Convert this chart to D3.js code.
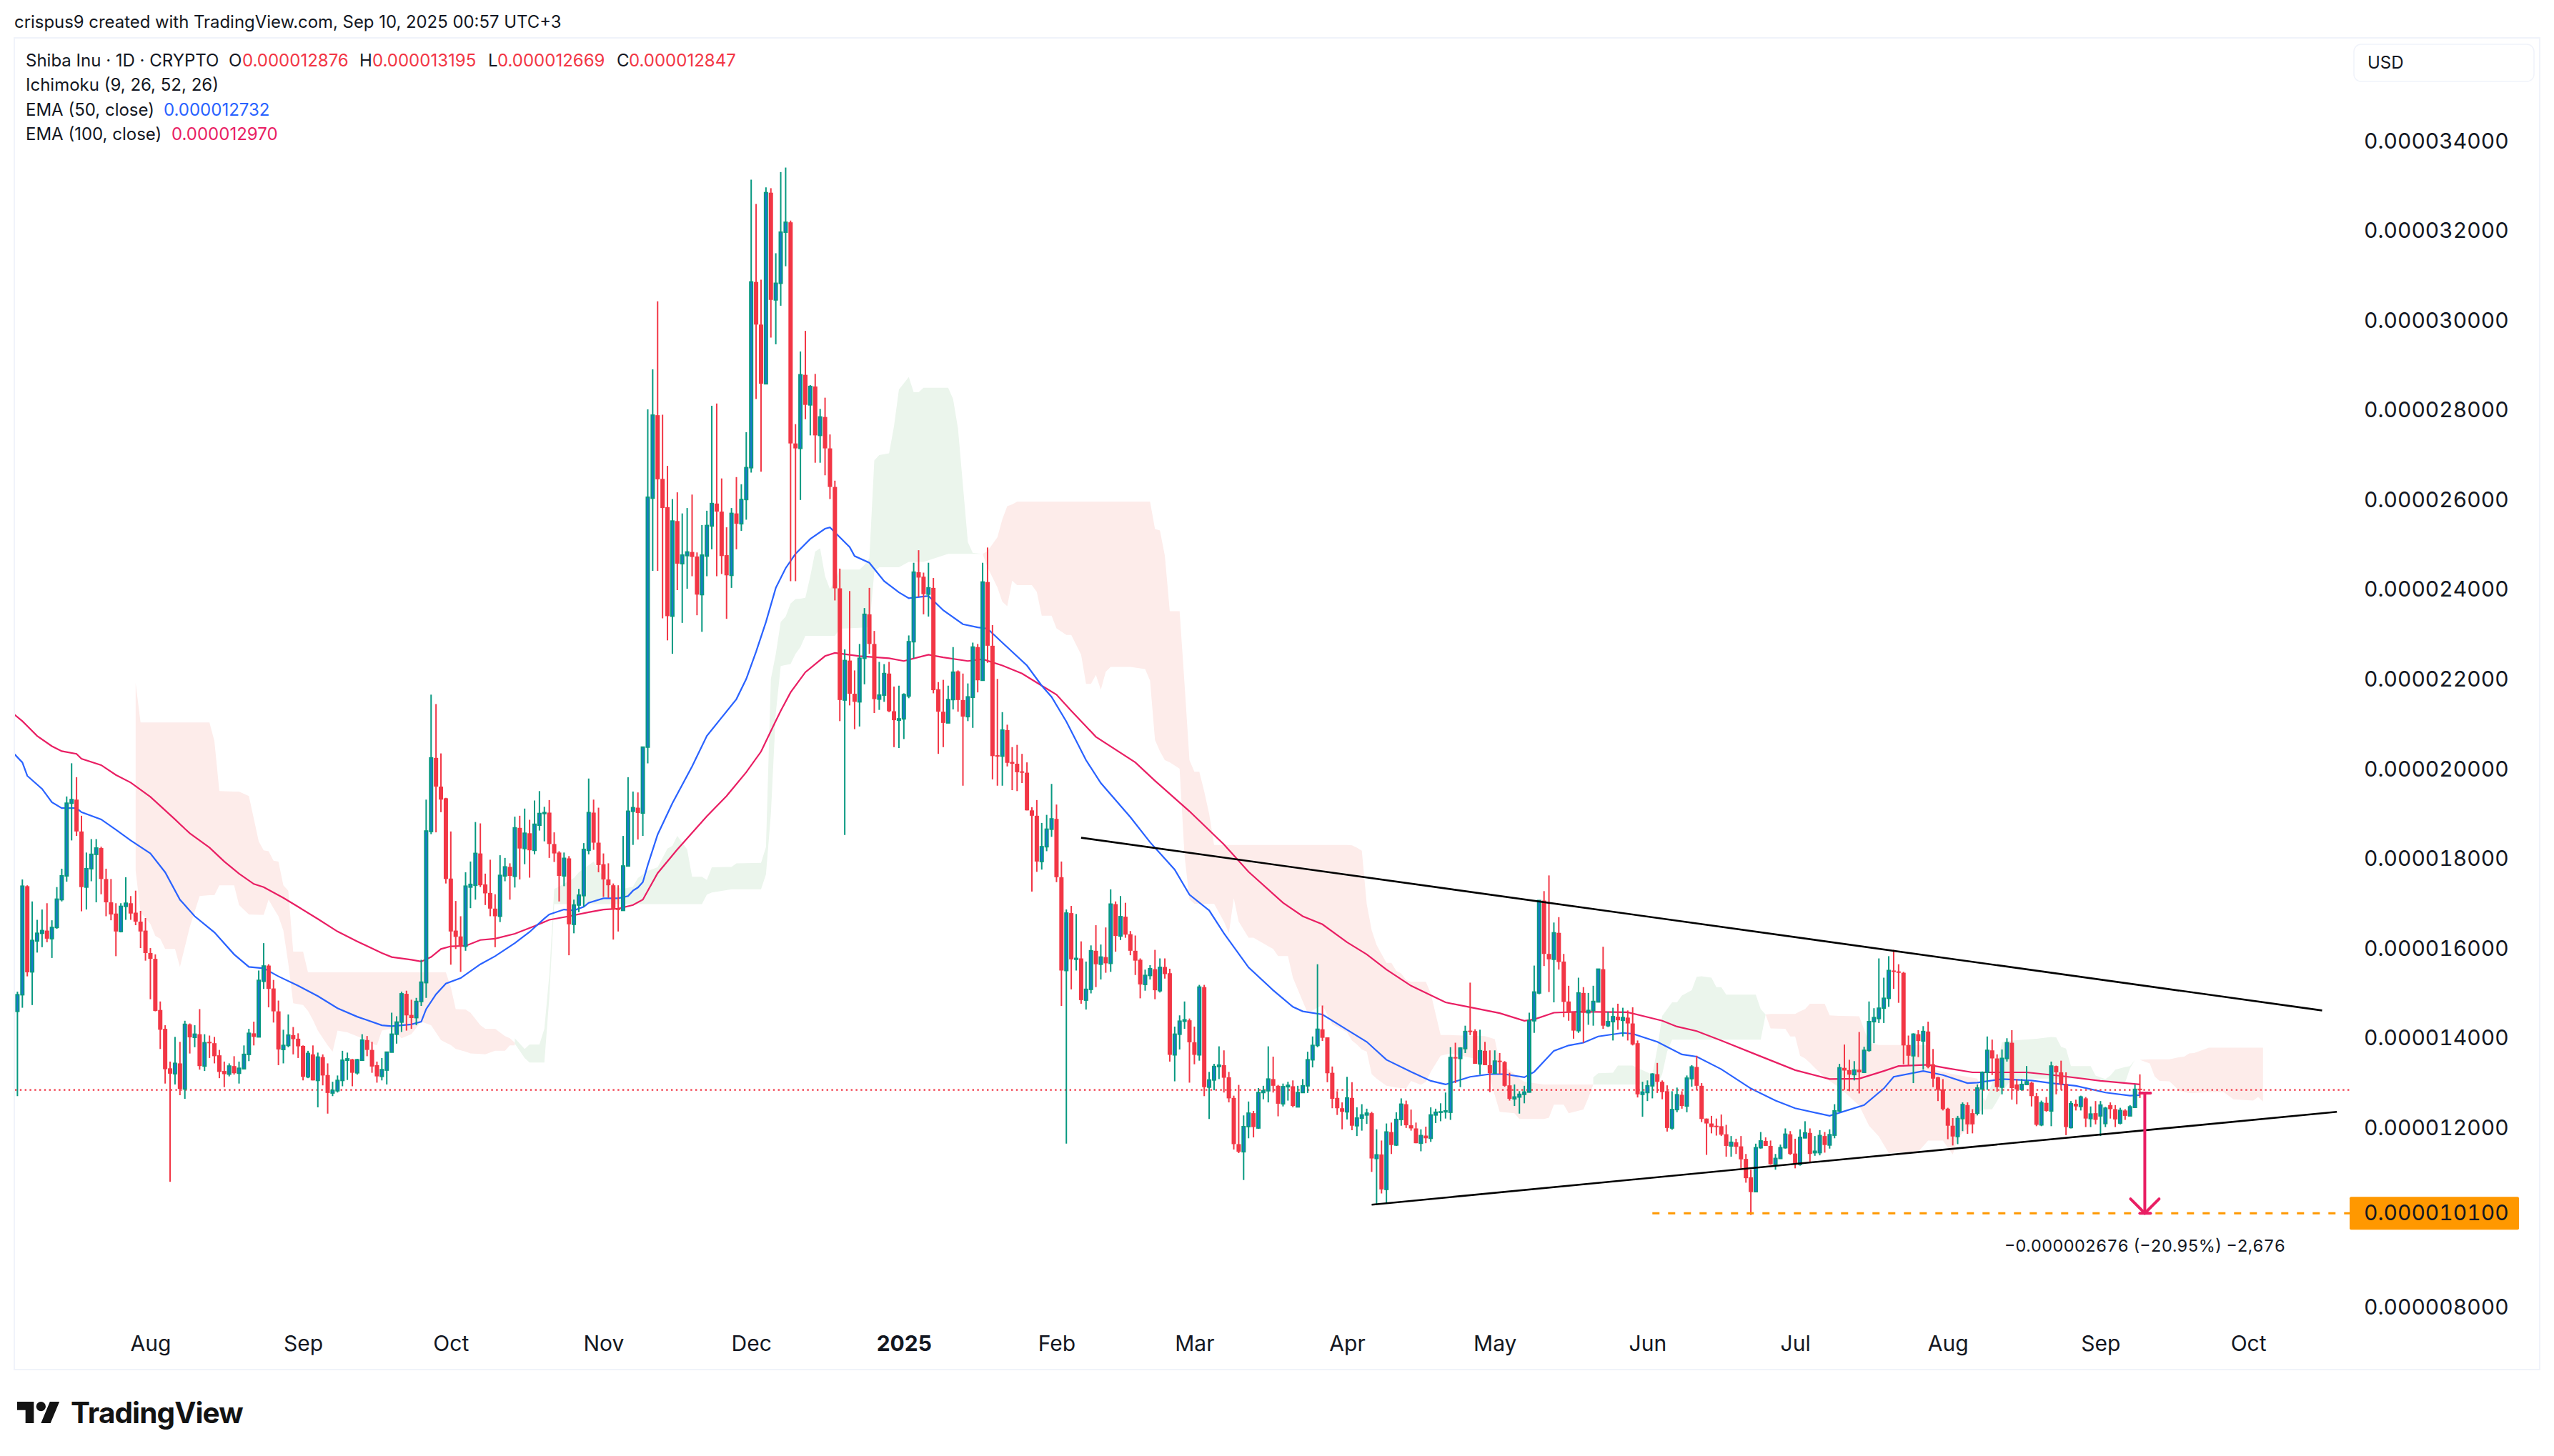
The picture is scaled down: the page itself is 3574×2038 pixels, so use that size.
<!DOCTYPE html>
<html>
<head>
<meta charset="utf-8">
<script src="https://cdn.jsdelivr.net/npm/d3@7"></script>
<style>
  html, body { margin: 0; padding: 0; background: #fff; }
  svg { display: block; font-family: Inter, "Noto Sans", sans-serif; }
  text { fill: #131722; }
  .tabular text, text.tabular { font-variant-numeric: tabular-nums; }
</style>
</head>
<body>
<div id="chart"></div>
<script>
// Daily candles start here, one bar per calendar day. Prices are in millionths of a USD.
const firstDay = new Date(Date.UTC(2024, 6, 5));

const opens = [
  14.60,14.97,17.39,15.48,16.17,16.34,16.40,16.22,16.47,17.09,
  17.62,19.24,19.32,18.61,17.37,17.78,18.10,18.24,17.55,17.03,
  16.78,16.38,16.94,17.01,16.80,16.60,16.40,15.90,15.77,14.63,
  14.21,13.33,13.21,13.44,12.87,14.31,14.02,14.09,13.38,13.92,
  13.89,13.62,13.27,13.20,13.38,13.22,13.32,13.64,14.11,14.03,
  15.27,15.62,15.11,14.60,13.75,13.84,14.07,13.99,13.83,13.14,
  13.64,13.06,13.58,13.18,12.78,12.83,13.06,13.51,13.53,13.23,
  13.51,13.96,13.74,13.40,13.15,13.29,13.69,14.09,14.36,14.99,
  14.52,14.46,14.82,15.24,18.61,20.25,19.61,19.35,17.56,16.40,
  16.27,16.05,17.37,17.41,18.12,17.43,17.24,16.89,16.72,17.62,
  17.82,17.61,18.69,18.23,18.57,18.19,18.75,19.01,19.03,18.33,
  18.14,17.62,18.01,16.54,16.97,17.18,18.19,19.03,18.36,17.88,
  17.54,17.41,16.89,16.85,17.84,19.06,19.14,19.02,20.49,26.04,
  27.89,26.47,25.84,23.41,25.53,24.58,24.76,24.84,24.74,23.89,
  24.75,25.42,25.92,25.74,24.77,24.32,25.70,25.47,26.01,26.72,
  30.86,29.91,28.59,32.85,30.46,30.83,31.97,32.19,27.26,27.15,
  28.79,28.12,28.53,27.44,27.85,27.15,26.29,24.03,21.54,22.42,
  21.68,21.50,22.47,23.45,22.79,21.56,21.65,22.13,21.29,21.09,
  21.12,21.63,22.84,24.39,24.29,23.90,24.04,21.78,21.28,21.03,
  21.55,22.18,21.54,21.17,21.60,22.72,21.98,24.17,22.75,20.31,
  20.29,20.87,20.16,20.12,19.95,19.92,19.08,18.96,17.94,18.27,
  18.66,18.89,17.59,15.51,16.79,15.76,15.78,14.85,15.09,15.95,
  15.65,15.81,15.67,16.99,16.28,16.71,16.32,15.95,15.75,15.20,
  15.40,15.54,15.06,15.59,15.45,13.63,14.09,14.38,14.40,13.91,
  13.63,15.14,12.91,13.07,13.37,13.40,13.13,12.67,11.64,11.47,
  12.03,12.33,12.00,12.79,12.83,13.09,12.94,12.54,12.92,12.93,
  12.47,12.79,12.94,13.52,13.84,14.20,14.02,13.23,12.67,12.44,
  12.36,12.67,12.05,12.22,12.29,12.33,11.32,11.41,10.63,11.91,
  11.62,12.19,12.53,12.06,11.99,11.66,11.83,11.77,12.29,12.35,
  12.36,12.35,13.58,13.55,13.77,14.17,14.16,13.43,13.72,13.40,
  13.22,13.50,13.47,12.95,12.65,12.69,12.75,12.80,14.39,15.01,
  17.07,15.88,15.76,16.35,15.71,14.82,14.58,14.17,15.01,14.57,
  14.62,14.81,15.54,14.28,14.37,14.48,14.40,14.46,14.33,13.89,
  12.75,12.79,12.94,13.20,13.03,12.82,12.00,12.41,12.74,12.49,
  13.10,13.36,12.94,12.21,12.10,12.05,12.04,11.86,11.60,11.68,
  11.59,11.31,10.90,10.58,11.56,11.71,11.60,11.19,11.32,11.56,
  11.86,11.43,11.19,11.78,11.89,11.45,11.45,11.82,11.62,11.84,
  12.38,13.34,13.29,13.19,13.30,13.24,13.73,14.37,14.44,14.67,
  14.89,15.51,15.49,15.46,13.85,13.61,14.09,13.94,14.15,13.42,
  13.13,12.86,12.43,12.05,11.81,12.21,12.51,12.33,12.33,12.87,
  13.24,13.73,13.55,12.91,13.55,13.90,12.97,12.86,12.97,13.01,
  12.71,12.07,12.56,12.38,13.38,13.24,12.98,12.01,12.54,12.48,
  12.66,12.21,12.33,12.27,12.10,12.51,12.42,12.11,12.39,12.27,
  12.46,12.876
];

const highs = [
  15.04,17.54,17.41,17.05,16.64,16.87,17.01,16.63,17.37,17.78,
  19.39,20.13,19.82,18.96,18.14,18.44,18.44,18.27,17.78,17.55,
  17.01,17.01,17.59,17.17,17.29,16.84,16.68,16.01,15.87,14.82,
  14.29,13.48,14.03,13.92,14.39,14.33,14.29,14.65,14.09,14.06,
  14.03,13.74,13.48,13.44,13.60,13.48,13.84,14.21,14.37,15.51,
  16.12,15.65,15.30,14.84,14.19,14.53,14.25,14.11,13.84,13.72,
  13.84,13.68,13.64,13.44,13.03,13.17,13.72,13.68,13.54,13.54,
  14.09,14.05,13.92,13.48,13.56,13.70,14.57,14.49,15.04,15.06,
  14.86,14.90,15.75,19.32,21.66,21.45,20.35,19.36,18.61,17.06,
  16.72,17.70,17.94,18.82,18.79,17.67,17.98,17.21,18.08,18.02,
  17.90,18.94,18.96,19.12,18.87,19.30,19.51,19.16,19.31,18.59,
  18.17,18.14,18.06,17.09,17.33,18.35,19.79,19.32,19.14,18.12,
  17.90,17.45,17.41,18.51,19.82,19.50,19.48,20.49,28.02,28.91,
  30.43,27.90,26.76,26.02,26.17,25.70,25.82,26.12,24.83,25.44,
  25.76,28.10,28.15,26.48,25.39,25.82,26.51,26.35,27.51,33.14,
  32.60,30.91,32.97,32.95,31.50,33.31,33.41,32.23,27.69,29.31,
  29.77,28.56,28.81,28.03,28.28,27.46,26.43,24.47,22.67,23.97,
  22.20,22.79,23.59,24.04,23.08,22.39,22.34,22.39,21.84,21.86,
  21.69,22.98,24.60,24.88,24.38,24.60,24.26,21.94,21.99,21.86,
  22.72,22.20,22.13,21.91,22.82,22.79,24.60,24.94,23.21,22.01,
  21.27,20.99,20.49,20.54,20.34,20.15,19.15,19.31,18.80,18.98,
  19.67,19.21,17.94,16.87,16.95,16.77,16.16,15.71,16.07,16.52,
  16.09,16.47,17.32,17.05,17.17,17.02,16.39,16.29,15.78,15.53,
  15.63,15.97,15.78,15.78,15.55,14.26,14.51,14.82,14.44,14.26,
  15.19,15.19,13.25,13.43,13.82,13.73,13.25,12.72,12.96,12.28,
  12.59,12.38,12.89,12.94,13.82,13.59,12.96,12.99,13.03,13.06,
  12.94,13.09,13.70,14.04,15.65,14.73,14.02,13.37,12.82,12.57,
  13.14,13.02,12.46,12.53,12.43,12.36,11.97,11.72,12.10,12.12,
  12.35,12.66,12.61,12.41,12.12,11.97,12.03,12.46,12.43,12.55,
  12.79,13.80,13.90,13.80,14.28,15.24,14.20,14.19,13.92,13.73,
  13.73,13.67,13.49,13.23,12.97,12.82,12.94,14.57,15.62,17.08,
  17.28,17.63,16.58,16.70,15.88,15.17,14.59,15.35,15.14,15.01,
  15.17,15.54,16.04,14.59,14.68,14.77,14.68,14.62,14.69,13.95,
  13.03,13.06,13.22,13.45,13.06,12.95,12.82,12.90,12.82,13.17,
  13.40,13.61,13.00,12.21,12.27,12.21,12.30,12.07,11.82,11.76,
  11.82,11.42,11.07,11.65,11.91,11.79,11.72,11.42,11.63,11.99,
  11.93,11.76,11.97,12.15,11.99,11.82,11.95,11.91,11.97,12.53,
  13.43,13.86,13.52,13.49,14.14,13.81,14.82,14.67,15.78,15.35,
  15.83,15.97,15.65,15.48,14.06,14.11,14.18,14.27,14.37,13.76,
  13.14,13.09,12.45,12.22,12.27,12.57,12.57,12.42,12.97,13.26,
  14.04,13.97,13.64,13.75,14.00,14.18,13.09,13.09,13.38,13.03,
  12.78,12.61,12.69,13.48,13.39,13.50,13.24,12.60,12.63,12.72,
  12.69,12.48,12.60,12.60,12.47,12.57,12.51,12.45,12.42,12.51,
  12.97,13.195
];

const lows = [
  12.71,14.68,15.38,14.74,15.91,16.03,16.14,15.79,16.44,17.05,
  17.49,18.41,18.51,16.83,16.87,17.50,17.03,17.21,16.72,16.63,
  15.83,16.36,16.64,16.64,16.52,16.01,15.73,14.87,14.60,13.76,
  12.99,10.80,12.97,12.73,12.65,13.66,13.80,13.30,13.27,13.56,
  13.44,13.11,12.91,13.15,13.19,12.99,13.31,13.49,13.84,14.03,
  15.10,14.69,14.35,13.40,13.44,13.80,13.64,13.56,13.06,13.11,
  13.06,12.46,12.95,12.32,12.71,12.79,12.93,13.07,12.93,13.19,
  13.50,13.60,13.23,13.01,13.06,12.97,13.69,13.88,14.14,14.17,
  14.21,14.29,14.72,14.90,18.55,18.59,19.04,17.45,15.64,15.99,
  15.48,15.95,16.90,17.09,17.37,16.97,16.72,16.03,16.59,17.50,
  17.09,17.36,17.54,17.88,17.58,18.10,18.63,18.39,18.02,17.93,
  17.05,17.39,15.85,16.34,16.81,16.93,18.10,18.20,17.70,17.15,
  17.13,16.20,16.38,16.85,17.84,18.31,18.43,18.51,20.13,24.42,
  24.42,23.36,22.87,22.57,23.99,23.26,24.02,24.30,23.43,23.06,
  24.30,24.90,24.30,24.35,23.35,24.04,24.90,25.31,25.56,26.61,
  28.25,26.63,28.59,29.62,29.47,30.33,31.21,24.19,24.19,26.00,
  27.80,27.44,26.83,26.83,26.55,26.02,23.76,21.07,18.53,21.42,
  20.89,20.95,21.89,22.57,21.25,21.32,21.50,21.27,20.49,20.47,
  20.67,21.58,22.47,23.84,23.45,23.40,21.69,20.34,20.49,21.03,
  21.33,21.28,19.63,21.07,20.92,21.71,21.98,22.37,19.77,19.63,
  19.63,20.06,19.53,19.51,19.69,19.08,17.27,17.71,17.76,18.17,
  18.49,17.48,14.72,11.65,15.09,15.51,14.77,14.64,15.00,15.14,
  15.31,15.46,15.48,15.93,16.19,16.24,15.85,15.41,14.89,15.06,
  15.31,14.87,15.02,15.33,13.48,13.04,13.75,14.21,13.01,13.42,
  13.50,12.71,12.20,12.84,13.09,12.79,12.57,11.52,11.44,10.84,
  11.77,11.79,11.98,12.64,12.57,12.79,12.26,12.48,12.61,12.46,
  12.47,12.78,12.78,13.35,13.80,13.94,13.02,12.44,12.29,11.97,
  12.19,11.95,11.82,11.94,12.09,11.02,10.29,10.54,10.31,11.42,
  11.60,12.05,12.00,11.94,11.66,11.48,11.66,11.69,12.11,12.15,
  12.21,12.18,13.00,12.91,13.67,14.07,13.43,13.19,13.40,12.80,
  13.22,13.20,12.92,12.61,12.49,12.32,12.55,12.79,14.12,14.98,
  15.61,15.03,14.80,15.53,14.47,14.39,13.99,14.12,13.90,14.30,
  14.28,14.80,14.21,14.25,13.95,14.19,14.04,13.95,13.84,12.68,
  12.25,12.60,12.66,12.78,12.64,11.92,11.96,12.35,12.43,12.35,
  12.92,12.84,12.13,11.40,11.88,11.83,11.82,11.36,11.36,11.42,
  11.10,10.78,10.06,10.58,11.54,11.60,11.18,11.07,11.32,11.54,
  11.40,11.10,11.16,11.77,11.22,11.38,11.39,11.45,11.54,11.77,
  12.35,12.85,12.82,13.06,12.77,13.24,13.70,13.89,14.34,14.34,
  14.70,15.10,14.79,13.42,13.39,13.00,13.58,13.30,13.33,12.91,
  12.60,12.39,11.75,11.61,11.64,11.93,11.87,11.88,12.28,12.30,
  12.85,13.18,12.81,12.75,13.48,12.63,12.53,12.83,12.97,12.48,
  12.04,12.04,12.36,12.04,12.75,12.85,11.84,11.99,12.39,12.39,
  12.02,12.02,12.08,11.82,12.02,12.21,12.02,12.08,12.18,12.27,
  12.45,12.669
];

const closes = [
  14.97,17.39,15.47,16.18,16.34,16.40,16.22,16.47,17.10,17.62,
  19.24,19.32,18.61,17.37,17.78,18.10,18.24,17.55,17.03,16.76,
  16.38,16.94,17.01,16.78,16.60,16.38,15.90,15.77,14.61,14.19,
  13.31,13.21,13.44,12.87,14.31,14.02,14.09,13.38,13.90,13.89,
  13.60,13.25,13.20,13.38,13.22,13.33,13.64,14.11,14.03,15.29,
  15.61,15.10,14.60,13.75,13.84,14.07,13.98,13.82,13.14,13.66,
  13.06,13.58,13.17,12.78,12.84,13.06,13.51,13.54,13.23,13.52,
  13.96,13.74,13.37,13.15,13.30,13.69,14.09,14.36,14.99,14.51,
  14.45,14.82,15.25,18.62,20.25,19.61,19.32,17.55,16.38,16.26,
  16.05,17.39,17.43,18.12,17.41,17.23,16.89,16.72,17.63,17.82,
  17.62,18.69,18.23,18.57,18.19,18.77,19.01,19.03,18.33,18.12,
  17.62,18.01,16.54,16.97,17.19,18.21,19.03,18.36,17.86,17.54,
  17.41,16.87,16.86,17.84,19.06,19.14,19.02,20.49,26.06,27.89,
  26.46,25.82,23.41,25.53,24.58,24.77,24.84,24.73,23.89,24.77,
  25.43,25.92,25.74,24.75,24.32,25.70,25.47,26.01,26.72,30.86,
  29.91,28.59,32.85,30.46,30.83,31.97,32.19,27.26,27.15,28.79,
  28.12,28.53,27.44,27.85,27.15,26.29,24.03,21.54,22.42,21.68,
  21.50,22.47,23.45,22.79,21.56,21.65,22.13,21.29,21.09,21.12,
  21.66,22.84,24.39,24.27,23.90,24.04,21.76,21.28,21.03,21.55,
  22.16,21.54,21.17,21.61,22.72,21.98,24.17,22.75,20.29,20.29,
  20.87,20.14,20.12,19.93,19.93,19.08,18.96,17.94,18.27,18.66,
  18.89,17.59,15.51,16.79,15.76,15.78,14.85,15.09,15.95,15.65,
  15.81,15.67,16.99,16.28,16.71,16.31,15.95,15.73,15.20,15.40,
  15.55,15.07,15.58,15.43,13.63,14.09,14.38,14.41,13.91,13.63,
  15.14,12.91,13.07,13.37,13.40,13.12,12.66,11.64,11.47,12.03,
  12.33,12.02,12.79,12.83,13.09,12.94,12.54,12.92,12.95,12.49,
  12.79,12.94,13.52,13.84,14.20,14.01,13.22,12.65,12.44,12.36,
  12.67,12.05,12.22,12.29,12.33,11.32,11.40,10.63,11.91,11.62,
  12.19,12.53,12.06,11.99,11.66,11.83,11.77,12.29,12.35,12.36,
  12.38,13.57,13.56,13.78,14.15,14.15,13.43,13.72,13.40,13.22,
  13.49,13.47,12.94,12.65,12.69,12.75,12.80,14.39,15.03,17.07,
  15.88,15.76,16.35,15.70,14.81,14.57,14.17,15.01,14.57,14.62,
  14.82,15.54,14.28,14.37,14.48,14.40,14.46,14.33,13.86,12.75,
  12.80,12.94,13.20,13.03,12.80,12.00,12.41,12.74,12.49,13.11,
  13.36,12.94,12.20,12.10,12.02,12.03,11.85,11.60,11.68,11.58,
  11.30,10.88,10.57,11.56,11.71,11.60,11.19,11.32,11.56,11.86,
  11.42,11.19,11.79,11.89,11.42,11.48,11.83,11.62,11.85,12.38,
  13.34,13.28,13.19,13.29,13.24,13.73,14.37,14.46,14.67,14.89,
  15.51,15.48,15.46,13.84,13.61,14.09,13.94,14.15,13.36,13.10,
  12.85,12.42,12.05,11.81,12.21,12.52,12.08,12.08,12.89,13.24,
  13.73,13.55,12.91,13.55,13.90,12.89,12.86,12.97,13.03,12.71,
  12.07,12.56,12.38,13.38,13.24,12.97,12.02,12.54,12.48,12.69,
  12.21,12.31,12.18,12.51,12.44,12.42,12.19,12.39,12.27,12.47,
  12.86,12.847
];

const ema50Points = [
  [-1,20.38],[1,20.15],[2,19.85],[5,19.56],[7,19.26],[9,19.13],[12,19.13],[13,19.04],[17,18.88],[20,18.65],
  [23,18.41],[27,18.12],[30,17.70],[33,17.09],[36,16.72],[40,16.36],[44,15.87],[47,15.59],[50,15.56],[53,15.38],
  [57,15.17],[61,14.94],[65,14.67],[69,14.48],[74,14.29],[76,14.27],[80,14.31],[82,14.37],[83,14.65],[85,14.98],
  [87,15.22],[90,15.34],[94,15.65],[97,15.83],[101,16.12],[104,16.37],[107,16.67],[108,16.76],[111,16.87],[113,16.85],
  [115,16.93],[116,17.02],[119,17.12],[122,17.12],[124,17.17],[125,17.29],[126,17.36],[127,17.48],[128,17.86],[130,18.54],
  [133,19.24],[137,20.06],[140,20.74],[143,21.15],[146,21.56],[148,22.01],[150,22.62],[152,23.28],[154,24.04],[156,24.48],
  [158,24.80],[161,25.13],[164,25.36],[165,25.39],[169,24.95],[170,24.75],[173,24.60],[176,24.19],[179,23.94],[181,23.81],
  [185,23.86],[188,23.54],[192,23.23],[195,23.16],[197,23.13],[200,22.82],[205,22.31],[208,21.86],[210,21.61],[213,21.06],
  [217,20.20],[220,19.69],[226,18.93],[230,18.37],[235,17.76],[238,17.20],[242,16.85],[245,16.34],[250,15.58],[255,15.07],
  [259,14.70],[261,14.60],[265,14.53],[270,14.19],[274,13.92],[278,13.52],[283,13.25],[287,13.05],[290,12.97],[295,13.14],
  [299,13.20],[302,13.20],[306,13.13],[308,13.25],[312,13.72],[315,13.84],[318,13.90],[321,14.04],[326,14.12],[328,14.10],
  [333,13.92],[338,13.64],[341,13.59],[346,13.31],[352,12.88],[357,12.61],[361,12.44],[368,12.27],[375,12.51],[379,12.88],
  [381,13.14],[387,13.27],[391,13.18],[396,13.00],[398,13.01],[403,13.09],[409,13.06],[413,13.00],[418,12.94],[424,12.79],
  [429,12.72],[431,12.732]
];

const ema100Points = [
  [-1,21.25],[1,21.07],[4,20.74],[7,20.51],[9,20.40],[12,20.34],[13,20.23],[17,20.09],[20,19.87],[23,19.70],
  [27,19.38],[32,18.88],[34,18.67],[35,18.57],[39,18.25],[42,17.94],[45,17.67],[48,17.44],[50,17.37],[54,17.13],
  [57,16.93],[61,16.66],[65,16.38],[69,16.16],[74,15.90],[76,15.81],[80,15.75],[82,15.71],[84,15.81],[86,15.99],
  [88,16.05],[91,16.06],[94,16.19],[97,16.22],[101,16.33],[105,16.50],[108,16.64],[112,16.72],[116,16.81],[119,16.87],
  [122,16.89],[125,16.97],[127,17.09],[130,17.68],[134,18.21],[137,18.58],[140,18.95],[144,19.40],[148,19.93],[151,20.39],
  [153,20.85],[155,21.30],[157,21.71],[160,22.16],[164,22.52],[166,22.59],[171,22.52],[177,22.47],[180,22.41],[185,22.55],
  [188,22.49],[193,22.41],[196,22.45],[200,22.31],[204,22.13],[208,21.86],[211,21.66],[214,21.30],[219,20.72],[227,20.15],
  [231,19.74],[238,19.06],[245,18.32],[250,17.71],[257,17.02],[261,16.72],[265,16.54],[270,16.14],[274,15.87],[278,15.53],
  [283,15.17],[290,14.80],[295,14.69],[301,14.56],[306,14.39],[308,14.42],[312,14.57],[317,14.59],[327,14.58],[334,14.39],
  [337,14.26],[341,14.16],[346,13.95],[353,13.64],[361,13.29],[368,13.09],[374,13.10],[379,13.27],[382,13.38],[388,13.41],
  [392,13.33],[397,13.24],[408,13.24],[415,13.16],[423,13.05],[431,12.97]
];

// Ichimoku cloud patches, each row is [day index, upper span, lower span]
const cloudRedA = [
  [24,21.92,17.74],[25,21.04,16.81],[27,21.04,16.55],[28,21.04,16.28],[29,21.04,16.22],[30,21.04,15.99],[32,21.04,15.99],
  [33,21.04,15.59],[35,21.04,16.48],[37,21.04,17.17],[39,21.04,17.19],[40,20.62,17.19],[41,19.51,17.41],[44,19.50,17.41],
  [45,19.50,16.97],[47,19.40,16.76],[49,18.39,16.75],[50,18.19,16.75],[51,18.17,17.09],[52,17.96,16.90],[53,17.94,16.72],
  [54,17.41,16.40],[55,17.29,15.67],[56,15.93,14.78],[58,15.93,14.74],[59,15.47,14.61],[60,15.47,14.41],[61,15.47,14.17],
  [63,15.47,13.84],[64,15.47,13.70],[65,15.47,14.17],[67,15.47,14.13],[70,15.47,14.00],[72,15.47,13.88],[73,15.47,13.84],
  [74,15.47,14.17],[76,15.47,14.21],[78,15.47,14.00],[80,15.47,14.09],[82,15.47,14.37],[84,15.47,14.29],[86,15.47,13.96],
  [87,15.47,13.90],[88,15.14,13.85],[89,14.65,13.76],[91,14.64,13.70],[92,14.57,13.66],[94,14.29,13.65],[95,14.21,13.64],
  [97,14.21,13.72],[99,14.05,13.72],[100,14.00,13.84],[101,13.90,13.84]
];
const cloudGreenA = [
  [101,14.00,13.88],[103,13.76,13.56],[104,13.86,13.46],[106,13.86,13.46],[107,14.21,13.46],[108,15.40,14.90],[109,17.33,16.99],
  [110,17.38,16.99],[113,17.57,16.99],[114,17.70,16.99],[117,17.94,16.99],[120,17.40,16.99],[123,17.33,16.99],[125,17.38,16.99],
  [126,17.57,16.99],[128,17.73,16.99],[130,17.81,16.99],[132,18.23,16.99],[133,18.29,16.99],[134,18.51,16.99],[136,18.21,16.99],
  [137,17.60,16.99],[139,17.60,16.99],[140,17.53,17.20],[141,17.81,17.25],[145,17.82,17.32],[146,17.90,17.32],[151,17.91,17.32],
  [152,18.26,17.65],[153,22.01,19.00],[154,22.57,21.25],[155,23.28,22.30],[156,23.40,22.32],[157,23.69,22.34],[158,23.79,22.57],
  [159,23.80,22.72],[160,23.82,22.97],[161,24.30,22.97],[162,24.85,22.97],[163,24.92,22.97],[164,24.30,22.97],[165,24.01,22.97],
  [166,24.20,22.97],[167,24.45,23.13],[171,24.45,23.15],[172,24.55,23.16],[173,24.70,23.16],[174,26.88,24.40],[175,27.00,24.50],
  [177,27.04,24.50],[178,27.64,24.50],[179,28.46,24.50],[181,28.74,24.62],[182,28.40,24.62],[183,28.40,24.62],[184,28.50,24.62],
  [189,28.50,24.80],[190,28.25,24.80],[191,27.59,24.80],[193,25.06,24.80],[194,24.82,24.80],[196,24.80,24.80]
];
const cloudRedB = [
  [196,24.80,24.80],[197,24.86,24.50],[199,25.17,24.05],[200,25.57,23.73],[201,25.86,23.63],[202,25.90,24.20],[203,25.96,24.10],
  [206,25.96,24.10],[207,25.96,23.95],[208,25.96,23.42],[210,25.96,23.42],[211,25.96,23.14],[213,25.96,22.99],[214,25.96,22.99],
  [216,25.96,22.55],[217,25.96,21.90],[218,25.96,21.90],[219,25.96,22.10],[220,25.96,21.77],[221,25.96,22.17],[222,25.96,22.28],
  [226,25.96,22.28],[229,25.96,22.23],[230,25.96,21.97],[231,25.35,20.65],[232,25.32,20.40],[233,24.76,20.20],[234,23.52,20.15],
  [236,23.52,20.01],[237,21.90,18.07],[238,20.20,17.10],[239,19.94,17.00],[240,19.94,17.00],[241,19.50,17.00],[242,19.00,17.00],
  [243,18.31,17.00],[244,18.31,16.80],[245,18.31,16.60],[246,18.31,16.34],[247,18.31,17.12],[248,18.31,16.60],[250,18.31,16.24],
  [251,18.31,16.24],[255,18.31,15.99],[256,18.31,15.83],[258,18.31,15.83],[259,18.31,15.35],[262,18.31,14.56],[265,18.31,14.74],
  [267,18.31,14.31],[270,18.31,14.13],[271,18.30,13.95],[272,18.25,13.86],[273,18.18,13.75],[274,16.99,13.70],[275,16.41,13.20],
  [276,16.08,13.10],[278,15.68,12.94],[279,15.68,12.92],[280,15.50,12.90],[281,15.44,12.89],[282,15.30,12.88],[283,15.26,13.05],
  [285,15.26,12.96],[286,15.26,13.03],[287,15.00,13.25],[289,14.07,13.61],[291,14.07,13.66],[298,14.05,13.50],[300,13.98,12.73],
  [301,13.46,12.36],[304,13.20,12.33],[305,13.10,12.20],[306,13.03,12.20],[310,12.97,12.20],[311,12.97,12.23],[312,12.97,12.52],
  [314,12.97,12.52],[315,12.97,12.33],[318,12.97,12.41],[319,12.97,12.67],[320,12.97,12.97]
];
const cloudGreenB = [
  [320,13.13,12.97],[321,13.22,12.97],[324,13.23,12.97],[325,13.39,12.97],[328,13.39,12.97],[332,13.19,12.97],[333,13.77,12.97],
  [334,14.50,13.20],[335,14.65,13.70],[336,14.80,13.97],[337,14.80,13.97],[338,14.95,13.97],[340,15.07,13.97],[341,15.37,13.97],
  [342,15.38,13.97],[344,15.35,13.97],[345,15.14,13.97],[346,15.14,13.97],[347,14.97,13.97],[353,14.97,13.97],[354,14.65,13.97],
  [355,14.53,14.53]
];
const cloudRedC = [
  [355,14.53,14.53],[356,14.54,14.22],[359,14.54,14.21],[360,14.54,14.04],[361,14.54,14.04],[362,14.60,13.61],[363,14.65,13.55],
  [364,14.77,13.45],[365,14.77,13.34],[367,14.77,13.13],[368,14.51,13.05],[370,14.50,12.90],[374,14.49,12.50],[376,13.90,12.05],
  [378,13.85,11.81],[380,13.85,11.44],[386,13.85,11.47],[388,13.85,11.72],[389,13.30,11.72],[391,13.25,11.72],[393,13.20,11.41],
  [394,13.18,11.78],[397,13.12,12.10],[398,13.10,12.30],[399,12.70,12.42],[401,12.42,12.42]
];
const cloudGreenC = [
  [399,12.42,12.42],[401,13.00,12.42],[402,13.40,12.60],[403,13.91,12.80],[405,13.95,13.10],[410,13.99,13.10],[413,14.03,13.10],
  [414,14.02,13.10],[415,13.81,13.10],[416,13.77,13.10],[417,13.38,13.10],[421,13.38,13.10],[422,13.17,13.10],[424,13.09,13.05],
  [425,13.17,13.03],[426,13.30,13.01],[428,13.36,13.01],[429,13.38,13.33],[430,13.52,13.52]
];
const cloudRedD = [
  [430,13.52,13.52],[431,13.52,13.52],[433,13.53,13.44],[434,13.53,13.15],[435,13.53,13.05],[437,13.53,13.04],[439,13.58,12.83],
  [440,13.59,12.80],[441,13.66,12.78],[442,13.67,12.78],[445,13.79,12.80],[448,13.79,12.80],[450,13.79,12.64],[454,13.79,12.61],
  [455,13.79,12.69],[456,13.79,12.59]
];
const redClouds = [cloudRedA, cloudRedB, cloudRedC, cloudRedD];
const greenClouds = [cloudGreenA, cloudGreenB, cloudGreenC];

// Hand drawn lines on the chart
const upperTrend = [[216,18.47],[468,14.62]];
const lowerTrend = [[275,10.29],[471,12.36]];

const priceTicks = [8,10,12,14,16,18,20,22,24,26,28,30,32,34];
const monthTicks = [
  [2024,7,"Aug"],[2024,8,"Sep"],[2024,9,"Oct"],[2024,10,"Nov"],[2024,11,"Dec"],[2025,0,"2025"],[2025,1,"Feb"],
  [2025,2,"Mar"],[2025,3,"Apr"],[2025,4,"May"],[2025,5,"Jun"],[2025,6,"Jul"],[2025,7,"Aug"],[2025,8,"Sep"],[2025,9,"Oct"]
];

const lastClose = 12.847;
const targetPrice = 10.1;
const measureStart = 12.776;
const measureDay = 432;
const targetLineStart = 332;
const axisEndDay = 474;

const width = 3574, height = 2038;
const colorUp = "#089981", colorUpFill = "#1976d2", colorDown = "#f23645";
const colorEma50 = "#2962ff", colorEma100 = "#e91e63", colorTarget = "#ff9800";

const x = d3.scaleUtc()
  .domain([firstDay, d3.utcDay.offset(firstDay, 431)])
  .range([24.4, 2994.5]);
const dayX = d => x(d3.utcDay.offset(firstDay, d));
const y = d3.scaleLinear().domain([8, 34]).range([1830, 197.5]);

const svg = d3.select("#chart").append("svg")
  .attr("width", width)
  .attr("height", height);

// chart frame
svg.append("rect")
  .attr("x", 20).attr("y", 53)
  .attr("width", 3534).attr("height", 1864)
  .attr("fill", "none")
  .attr("stroke", "#f0f3fa")
  .attr("stroke-width", 2);

svg.append("clipPath").attr("id", "plot")
  .append("rect")
  .attr("x", 21).attr("y", 54)
  .attr("width", 3267).attr("height", 1862);

const plot = svg.append("g").attr("clip-path", "url(#plot)");

// Ichimoku cloud
const cloudArea = d3.area()
  .x(d => dayX(d[0]))
  .y0(d => y(d[2]))
  .y1(d => y(d[1]));

plot.selectAll(".cloud-red")
  .data(redClouds)
  .enter()
  .append("path")
  .attr("class", "cloud-red")
  .attr("fill", "#fdecea")
  .attr("d", cloudArea);

plot.selectAll(".cloud-green")
  .data(greenClouds)
  .enter()
  .append("path")
  .attr("class", "cloud-green")
  .attr("fill", "#ebf5ec")
  .attr("d", cloudArea);

// EMA lines sit under the candles
const emaLine = d3.line()
  .x(d => dayX(d[0]))
  .y(d => y(d[1]));

plot.append("path")
  .attr("d", emaLine(ema100Points))
  .attr("fill", "none")
  .attr("stroke", colorEma100)
  .attr("stroke-width", 2.2);

plot.append("path")
  .attr("d", emaLine(ema50Points))
  .attr("fill", "none")
  .attr("stroke", colorEma50)
  .attr("stroke-width", 2.2);

// last price line
plot.append("line")
  .attr("x1", 21).attr("x2", dayX(axisEndDay))
  .attr("y1", y(lastClose)).attr("y2", y(lastClose))
  .attr("stroke", colorDown)
  .attr("stroke-width", 2.4)
  .attr("stroke-dasharray", "2.4 4.4");

// candles
const candles = opens.map((o, i) => ({ day: i, o, h: highs[i], l: lows[i], c: closes[i] }));
const isUp = d => d.c >= d.o;

const candle = plot.selectAll(".candle")
  .data(candles)
  .enter()
  .append("g")
  .attr("class", "candle")
  .attr("transform", d => `translate(${dayX(d.day)},0)`);

candle.append("line")
  .attr("y1", d => y(d.h))
  .attr("y2", d => y(d.l))
  .attr("stroke", d => isUp(d) ? colorUp : colorDown)
  .attr("stroke-width", 2);

candle.append("rect")
  .attr("x", d => isUp(d) ? -2 : -3)
  .attr("width", d => isUp(d) ? 4 : 6)
  .attr("y", d => y(Math.max(d.o, d.c)))
  .attr("height", d => Math.max(isUp(d) ? 0.5 : 2, Math.abs(y(d.o) - y(d.c))))
  .attr("fill", d => isUp(d) ? colorUpFill : colorDown)
  .attr("stroke", d => isUp(d) ? colorUp : "none")
  .attr("stroke-width", 2);

// trend lines
const trendLine = d3.line()
  .x(d => dayX(d[0]))
  .y(d => y(d[1]));

[upperTrend, lowerTrend].forEach(t => {
  plot.append("path")
    .attr("d", trendLine(t))
    .attr("fill", "none")
    .attr("stroke", "#000")
    .attr("stroke-width", 2.6);
});

// target line
plot.append("line")
  .attr("x1", dayX(targetLineStart)).attr("x2", dayX(axisEndDay))
  .attr("y1", y(targetPrice)).attr("y2", y(targetPrice))
  .attr("stroke", colorTarget)
  .attr("stroke-width", 3)
  .attr("stroke-dasharray", "10 12");

// price range measure with arrow
const measure = plot.append("g")
  .attr("stroke", colorEma100)
  .attr("stroke-width", 4)
  .attr("stroke-linecap", "round")
  .attr("fill", "none");
const mx = dayX(measureDay), my0 = y(measureStart), my1 = y(targetPrice);
measure.append("line").attr("x1", mx).attr("x2", mx).attr("y1", my0).attr("y2", my1);
measure.append("line").attr("x1", mx - 7).attr("x2", mx + 8).attr("y1", my0).attr("y2", my0);
measure.append("line").attr("x1", mx - 7).attr("x2", mx + 8).attr("y1", my1).attr("y2", my1);
measure.append("path").attr("d", `M${mx - 20},${my1 - 20}L${mx},${my1}L${mx + 20},${my1 - 20}`);

svg.append("text")
  .attr("class", "tabular")
  .attr("x", mx)
  .attr("y", 1752)
  .attr("text-anchor", "middle")
  .attr("font-size", 23.5)
  .text("\u22120.000002676 (\u221220.95%) \u22122,676");

// axes
const tickFont = 30;
const priceAxis = d3.axisRight(y)
  .tickValues(priceTicks)
  .tickSize(0)
  .tickPadding(0)
  .tickFormat(d => (d / 1e6).toFixed(9));

svg.append("g")
  .attr("class", "tabular")
  .attr("transform", "translate(3308,0)")
  .call(priceAxis)
  .call(g => g.select(".domain").remove())
  .selectAll("text")
  .attr("font-size", tickFont)
  .attr("font-family", "Inter")
  .attr("fill", "#131722");

const timeAxis = d3.axisBottom(x)
  .tickValues(monthTicks.map(m => new Date(Date.UTC(m[0], m[1], 1))))
  .tickSize(0)
  .tickPadding(0)
  .tickFormat((d, i) => monthTicks[i][2]);

svg.append("g")
  .attr("transform", "translate(0,1870)")
  .call(timeAxis)
  .call(g => g.select(".domain").remove())
  .selectAll("text")
  .attr("font-size", tickFont)
  .attr("font-family", "Inter")
  .attr("font-weight", (d, i) => monthTicks[i][2] === "2025" ? 700 : 400)
  .attr("fill", "#131722");

// target price label on the axis
svg.append("rect")
  .attr("x", 3288).attr("y", y(targetPrice) - 23)
  .attr("width", 237).attr("height", 46)
  .attr("rx", 2)
  .attr("fill", colorTarget);

svg.append("text")
  .attr("class", "tabular")
  .attr("x", 3308)
  .attr("y", y(targetPrice))
  .attr("dy", "0.32em")
  .attr("font-size", tickFont)
  .text((targetPrice / 1e6).toFixed(9));

// currency pill
svg.append("rect")
  .attr("x", 3294).attr("y", 62)
  .attr("width", 252).attr("height", 52)
  .attr("rx", 10)
  .attr("fill", "#fff")
  .attr("stroke", "#f0f3fa")
  .attr("stroke-width", 1.5);
svg.append("text")
  .attr("x", 3313).attr("y", 96)
  .attr("font-size", 24)
  .text("USD");

// header and legend
svg.append("text")
  .attr("x", 20).attr("y", 39)
  .attr("font-size", 23.9)
  .text("crispus9 created with TradingView.com, Sep 10, 2025 00:57 UTC+3");

const legendRows = [
  { y: 93, parts: [
    { x: 36, t: "Shiba Inu \u00b7 1D \u00b7 CRYPTO" },
    { x: 320, t: "O" }, { x: 339, t: "0.000012876", c: colorDown },
    { x: 503, t: "H" }, { x: 521, t: "0.000013195", c: colorDown },
    { x: 683, t: "L" }, { x: 696, t: "0.000012669", c: colorDown },
    { x: 863, t: "C" }, { x: 880, t: "0.000012847", c: colorDown }
  ] },
  { y: 127, parts: [{ x: 36, t: "Ichimoku (9, 26, 52, 26)" }] },
  { y: 162, parts: [{ x: 36, t: "EMA (50, close)" }, { x: 229, t: "0.000012732", c: colorEma50 }] },
  { y: 196, parts: [{ x: 36, t: "EMA (100, close)" }, { x: 240, t: "0.000012970", c: colorEma100 }] }
];

legendRows.forEach(row => {
  row.parts.forEach(p => {
    svg.append("text")
      .attr("x", p.x).attr("y", row.y)
      .attr("font-size", 24)
      .style("fill", p.c || "#131722")
      .text(p.t);
  });
});

// TradingView logo
svg.append("g")
  .attr("transform", "translate(24,1955.3) scale(1.667)")
  .call(g => {
    g.append("path").attr("d", "M14 22H7V11H0V4h14v18zM28 22h-8l7.5-18h8L28 22z").style("fill", "#131313");
    g.append("circle").attr("cx", 20).attr("cy", 8).attr("r", 4).style("fill", "#131313");
  });
svg.append("text")
  .attr("x", 99).attr("y", 1992)
  .attr("font-size", 40.5)
  .attr("font-weight", 700)
  .attr("letter-spacing", -0.9)
  .style("fill", "#131313")
  .text("TradingView");
</script>
</body>
</html>
